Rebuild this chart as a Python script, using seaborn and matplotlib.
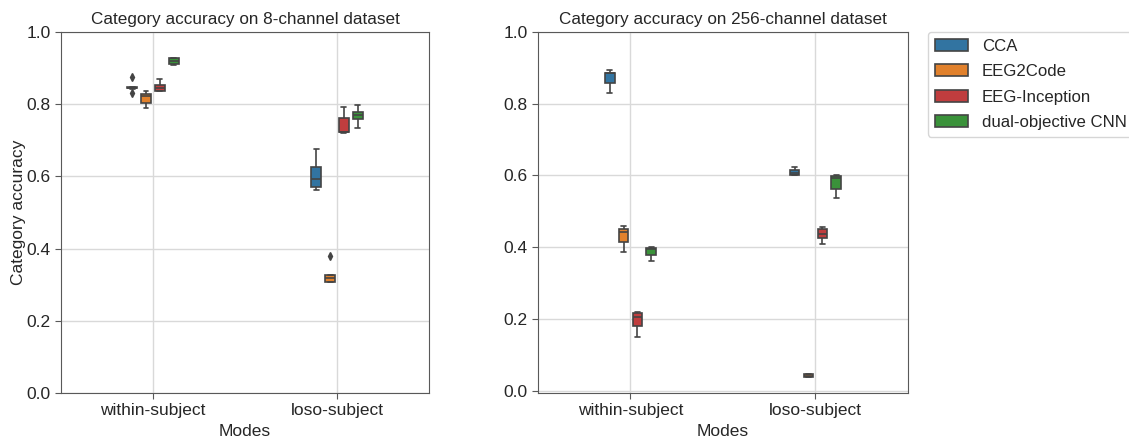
import numpy as np
import pandas as pd
import matplotlib
matplotlib.use("Agg")
import matplotlib.pyplot as plt
import seaborn as sns

# Per-fold category accuracies, grouped by evaluation mode and model
modes = ["within-subject", "loso-subject"]
models = ["CCA", "EEG2Code", "EEG-Inception", "dual-objective CNN"]
palette = ["tab:blue", "tab:orange", "tab:red", "tab:green"]

# 8-channel dataset
ch8_within_cca = [0.830, 0.843, 0.844, 0.845, 0.846, 0.847, 0.876]
ch8_within_eeg2code = [0.789, 0.802, 0.822, 0.828, 0.837]
ch8_within_inception = [0.837, 0.837, 0.846, 0.853, 0.869]
ch8_within_cnn = [0.908, 0.910, 0.919, 0.927, 0.929]
ch8_loso_cca = [0.562, 0.571, 0.592, 0.627, 0.676]
ch8_loso_eeg2code = [0.306, 0.308, 0.308, 0.317, 0.327, 0.327, 0.380]
ch8_loso_inception = [0.719, 0.722, 0.724, 0.763, 0.793]
ch8_loso_cnn = [0.735, 0.758, 0.770, 0.779, 0.798]

# 256-channel dataset
ch256_within_cca = [0.831, 0.857, 0.885, 0.887, 0.893]
ch256_within_eeg2code = [0.388, 0.414, 0.443, 0.451, 0.460]
ch256_within_inception = [0.151, 0.181, 0.206, 0.216, 0.219]
ch256_within_cnn = [0.362, 0.379, 0.395, 0.399, 0.402]
ch256_loso_cca = [0.602, 0.602, 0.608, 0.614, 0.625]
ch256_loso_eeg2code = [0.037, 0.037, 0.042, 0.047, 0.047]
ch256_loso_inception = [0.409, 0.425, 0.437, 0.450, 0.457]
ch256_loso_cnn = [0.537, 0.563, 0.592, 0.599, 0.601]


def long_table(groups):
    rows = []
    for (mode, model), values in groups.items():
        for v in values:
            rows.append({"Modes": mode, "Model": model, "Category accuracy": v})
    return pd.DataFrame(rows)


df8 = long_table({
    ("within-subject", "CCA"): ch8_within_cca,
    ("within-subject", "EEG2Code"): ch8_within_eeg2code,
    ("within-subject", "EEG-Inception"): ch8_within_inception,
    ("within-subject", "dual-objective CNN"): ch8_within_cnn,
    ("loso-subject", "CCA"): ch8_loso_cca,
    ("loso-subject", "EEG2Code"): ch8_loso_eeg2code,
    ("loso-subject", "EEG-Inception"): ch8_loso_inception,
    ("loso-subject", "dual-objective CNN"): ch8_loso_cnn,
})
df256 = long_table({
    ("within-subject", "CCA"): ch256_within_cca,
    ("within-subject", "EEG2Code"): ch256_within_eeg2code,
    ("within-subject", "EEG-Inception"): ch256_within_inception,
    ("within-subject", "dual-objective CNN"): ch256_within_cnn,
    ("loso-subject", "CCA"): ch256_loso_cca,
    ("loso-subject", "EEG2Code"): ch256_loso_eeg2code,
    ("loso-subject", "EEG-Inception"): ch256_loso_inception,
    ("loso-subject", "dual-objective CNN"): ch256_loso_cnn,
})

sns.set_style("whitegrid", {"xtick.bottom": True, "ytick.left": True,
                            "axes.edgecolor": "0.35", "grid.color": "0.85"})
plt.rcParams["font.family"] = ["Liberation Sans", "DejaVu Sans"]

fig = plt.figure(figsize=(11.29, 4.38), dpi=100)
ax1 = fig.add_axes([0.054, 0.103, 0.326, 0.824])
ax2 = fig.add_axes([0.4765, 0.103, 0.3277, 0.824])

box_kw = dict(x="Modes", y="Category accuracy", hue="Model", order=modes,
              hue_order=models, palette=palette, width=0.3, gap=0.3,
              linewidth=1.2, linecolor="#444444", saturation=0.75,
              flierprops={"marker": "d", "markersize": 4,
                          "markerfacecolor": "#444444", "markeredgecolor": "#444444"})

sns.boxplot(data=df8, ax=ax1, **box_kw)
sns.boxplot(data=df256, ax=ax2, **box_kw)

for ax in (ax1, ax2):
    ax.grid(True, axis="both", color="0.85", linewidth=1.0)
    ax.set_axisbelow(True)
    ax.set_xlabel("Modes", fontsize=12.5)
    ax.tick_params(axis="both", labelsize=12.5, length=4, color="0.35")

ax1.set_ylim(0, 1.0)
ax1.set_title("Category accuracy on 8-channel dataset", fontsize=12.3)
ax1.set_ylabel("Category accuracy", fontsize=12.5, labelpad=0)
ax1.legend_.remove()

ax2.set_ylim(-0.006, 1.0)
ax2.set_title("Category accuracy on 256-channel dataset", fontsize=12.3)
ax2.set_ylabel("")
ax2.legend(loc="upper left", bbox_to_anchor=(1.054, 1.0), borderaxespad=0,
           fontsize=12.1, labelspacing=0.62, title=None, frameon=True)

fig.savefig("out.png", dpi=100)
